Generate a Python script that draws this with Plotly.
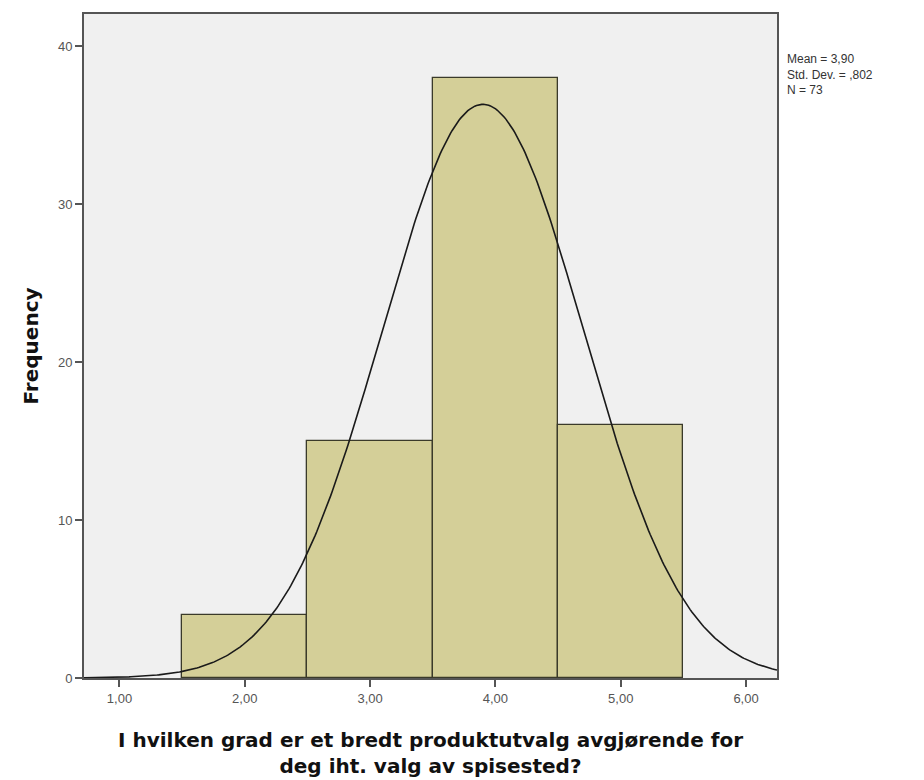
import numpy as np
import plotly.graph_objects as go

# Histogram bins (value categories 2..5) and counts
bin_centers = [2, 3, 4, 5]
counts = [4, 15, 38, 16]

# Summary statistics shown beside the chart
mean_val = 3.90
std_val = 0.802
n_obs = 73

x_ticks = [1, 2, 3, 4, 5, 6]
x_tick_labels = ["1,00", "2,00", "3,00", "4,00", "5,00", "6,00"]
y_ticks = [0, 10, 20, 30, 40]

x_range = [0.717, 6.247]
y_range = [0, 42.03]

fig = go.Figure()

fig.add_trace(go.Bar(
    x=bin_centers, y=counts, width=1.0,
    marker=dict(color="#D4CF98", line=dict(color="#3a3a2a", width=1.3)),
    showlegend=False, hoverinfo="x+y",
))

# Normal curve scaled to counts (bin width 1)
xs = np.linspace(x_range[0], x_range[1], 400)
ys = n_obs * 1.0 / (std_val * np.sqrt(2 * np.pi)) * np.exp(-0.5 * ((xs - mean_val) / std_val) ** 2)
fig.add_trace(go.Scatter(
    x=xs, y=ys, mode="lines",
    line=dict(color="#1a1a1a", width=1.6),
    showlegend=False, hoverinfo="skip",
))

fig.add_annotation(
    x=1.0, y=1.0, xref="paper", yref="paper",
    xanchor="left", yanchor="top", xshift=8, yshift=-36,
    text="Mean = 3,90<br>Std. Dev. = ,802<br>N = 73",
    showarrow=False, align="left",
    font=dict(family="Liberation Sans, Arial", size=12, color="#333"),
)

fig.update_layout(
    width=924, height=780,
    margin=dict(l=84, r=147, t=14, b=102),
    paper_bgcolor="white",
    plot_bgcolor="#F0F0F0",
    bargap=0,
    xaxis=dict(
        range=x_range, tickvals=x_ticks, ticktext=x_tick_labels,
        automargin=False,
        showgrid=False, zeroline=False,
        showline=True, mirror=True, linecolor="#555", linewidth=2,
        ticks="outside", ticklen=7, tickcolor="#555", tickwidth=1.5,
        tickfont=dict(family="Liberation Sans, Arial", size=13, color="#555"),
        title=dict(
            text="I hvilken grad er et bredt produktutvalg avgjørende for<br>deg iht. valg av spisested?",
            font=dict(family="DejaVu Sans", size=20, color="#111", weight="bold"),
            standoff=28,
        ),
    ),
    yaxis=dict(
        range=y_range, tickvals=y_ticks,
        automargin=False,
        showgrid=False, zeroline=False,
        showline=True, mirror=True, linecolor="#555", linewidth=2,
        ticks="outside", ticklen=7, tickcolor="#555", tickwidth=1.5,
        tickfont=dict(family="Liberation Sans, Arial", size=13, color="#555"),
        title=dict(
            text="Frequency",
            font=dict(family="DejaVu Sans", size=20, color="#111", weight="bold"),
            standoff=14,
        ),
    ),
)

fig.write_html("out.html")
